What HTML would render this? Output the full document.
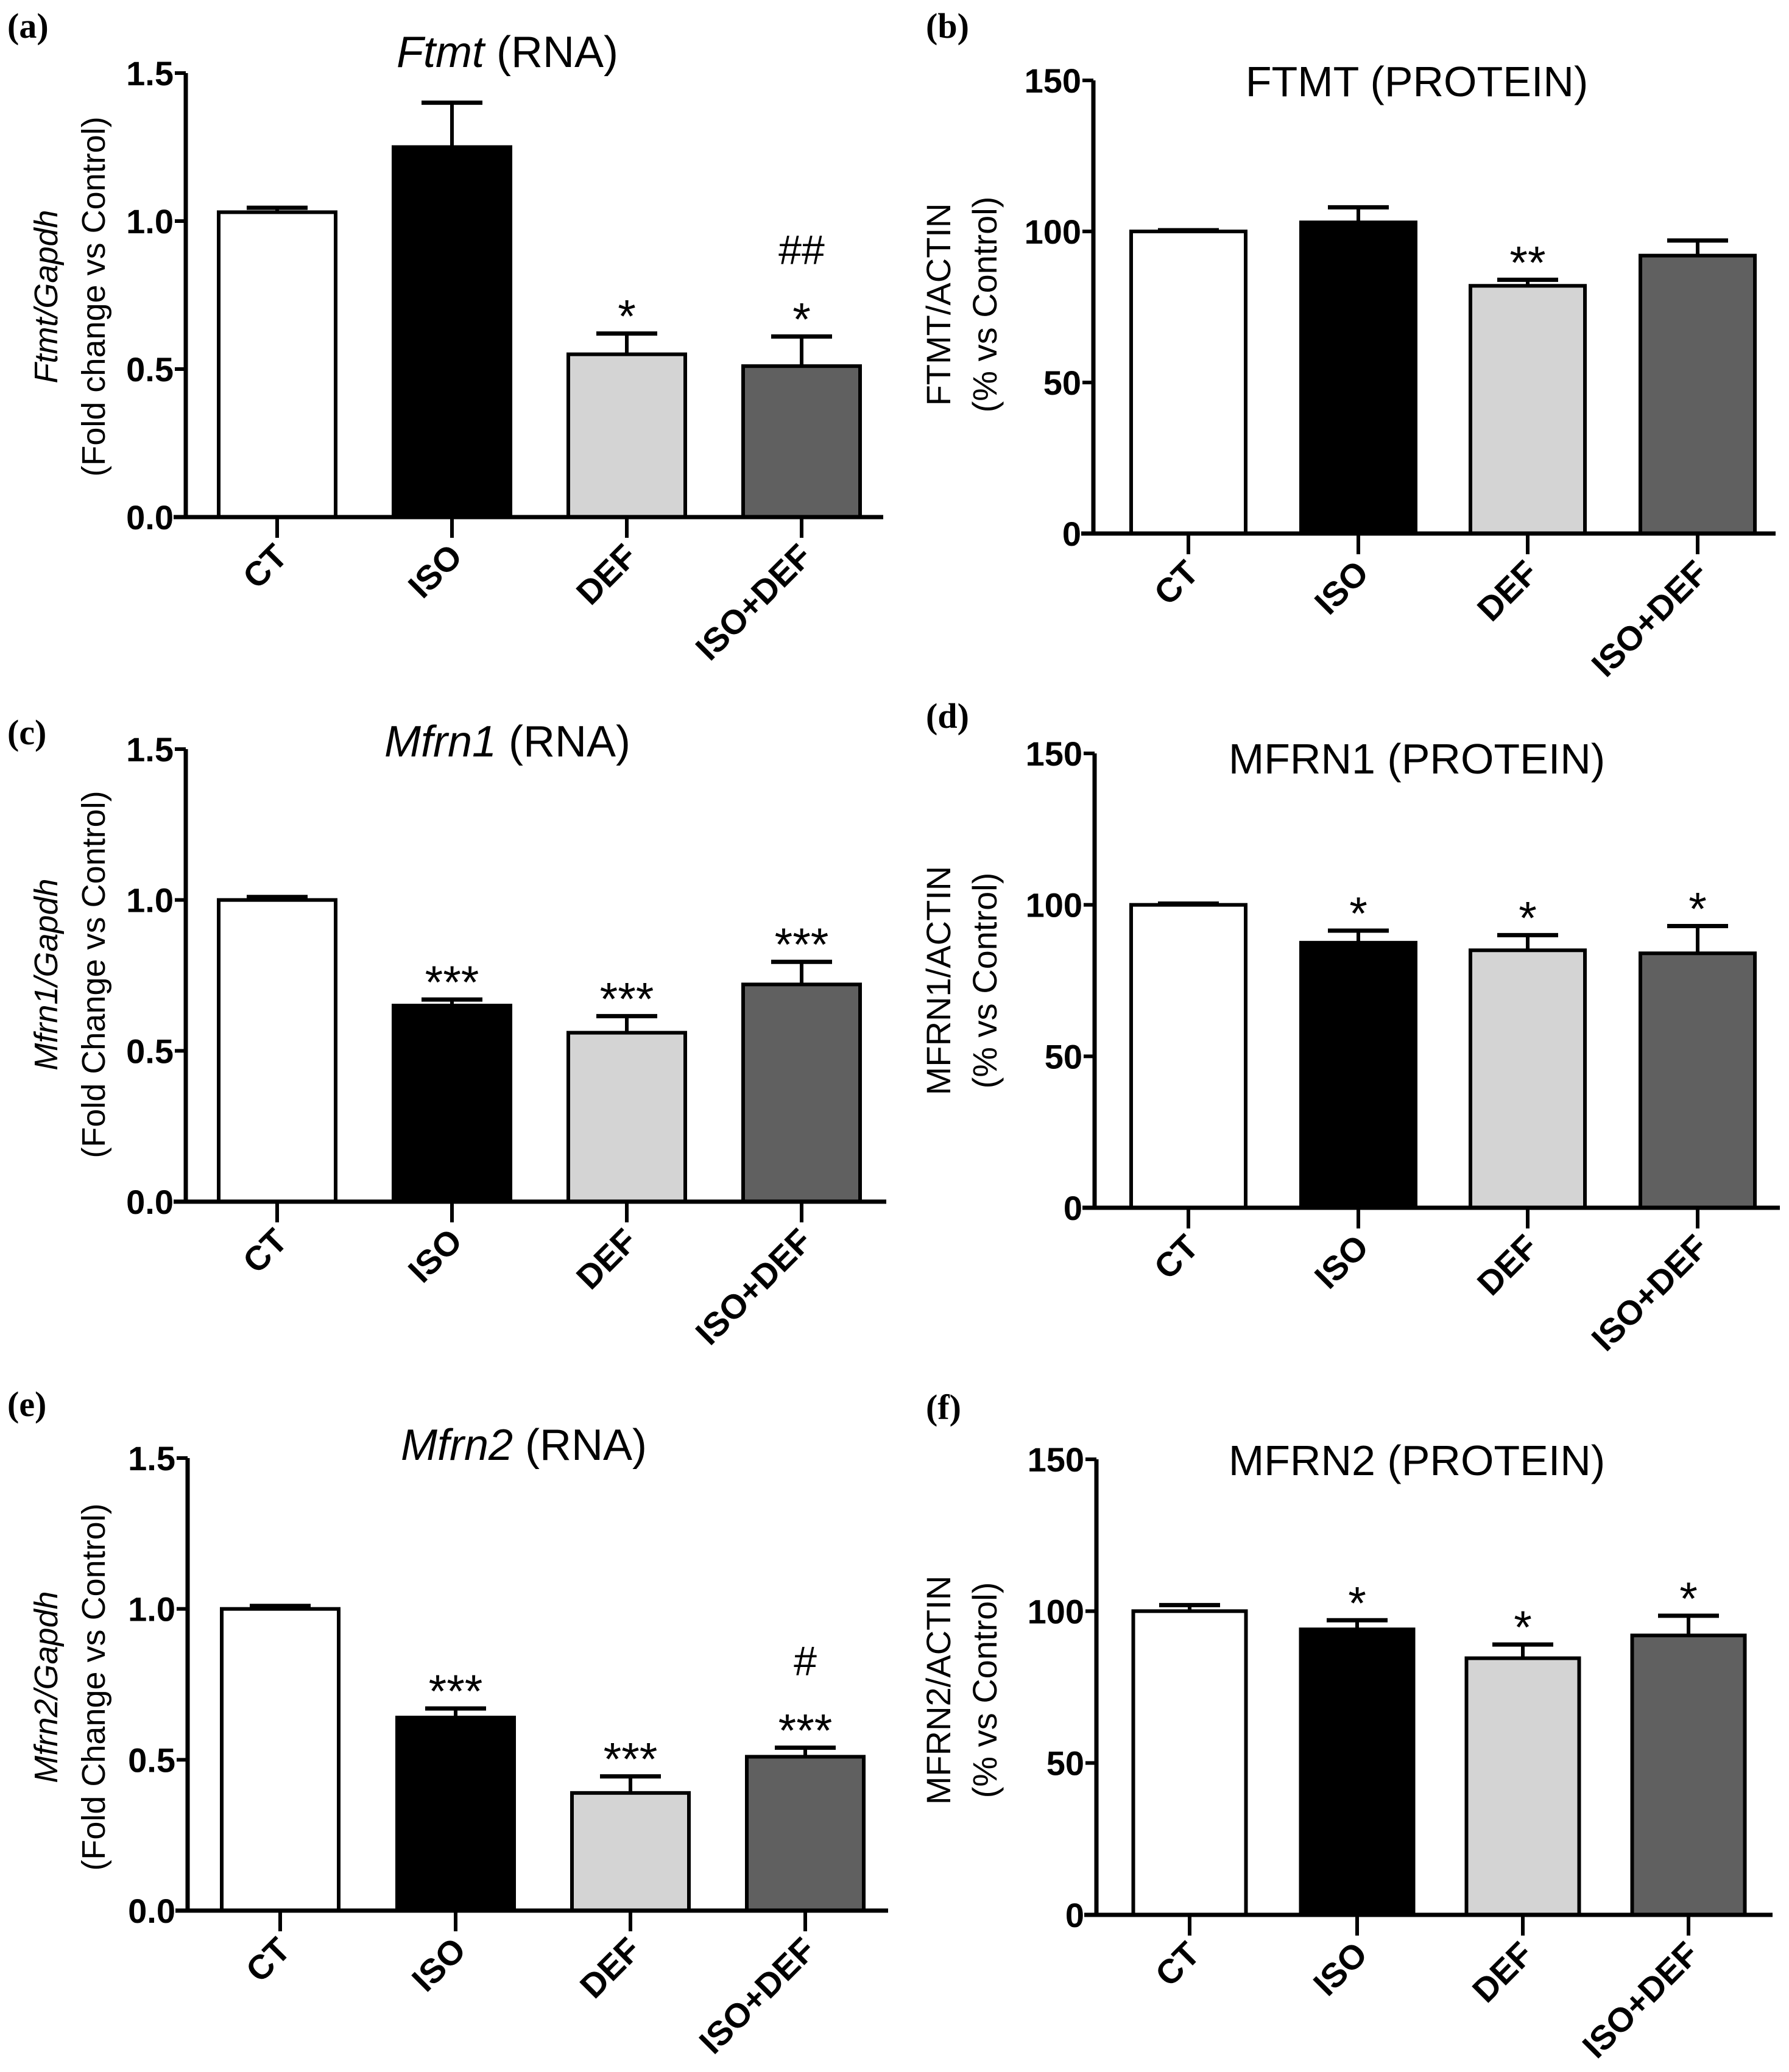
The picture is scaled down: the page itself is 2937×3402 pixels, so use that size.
<!DOCTYPE html>
<html><head><meta charset="utf-8">
<style>
html,body{margin:0;padding:0;background:#fff;}
svg{display:block;}
text{font-family:"Liberation Sans",Arial,sans-serif;}
</style></head>
<body>
<svg id="fig" width="2937" height="3402" viewBox="0 0 2937 3402" xmlns="http://www.w3.org/2000/svg"></svg>
<script>
const categories = ["CT","ISO","DEF","ISO+DEF"];
const fills = ["#ffffff","#000000","#d4d4d4","#606060"];
const valsA = [1.03,1.25,0.55,0.51];
const errA  = [0.015,0.15,0.07,0.10];
const sigA  = [[],[],["*"],["*","##"]];
const valsB = [100,103,82,92];
const errB  = [0.4,5,2,5];
const sigB  = [[],[],["**"],[]];
const valsC = [1.00,0.65,0.56,0.72];
const errC  = [0.01,0.02,0.055,0.075];
const sigC  = [[],["***"],["***"],["***"]];
const valsD = [100,87.5,85,84];
const errD  = [0.4,4,5,9];
const sigD  = [[],["*"],["*"],["*"]];
const valsE = [1.00,0.64,0.39,0.51];
const errE  = [0.01,0.03,0.055,0.03];
const sigE  = [[],["***"],["***"],["***","#"]];
const valsF = [100,94,84.5,92];
const errF  = [2,3,4.5,6.5];
const sigF  = [[],["*"],["*"],["*"]];
const ticksRNA = ["0.0","0.5","1.0","1.5"];
const tickValsRNA = [0,0.5,1.0,1.5];
const ticksProt = ["0","50","100","150"];
const tickValsProt = [0,50,100,150];

const NS="http://www.w3.org/2000/svg";
const svg=document.getElementById('fig');
function mk(tag,attrs,parent){const e=document.createElementNS(NS,tag);for(const k in attrs)e.setAttribute(k,attrs[k]);(parent||svg).appendChild(e);return e;}

const panels=[
 {lab:"(a)",lx:12,ly:62,ax:305,top:120,bot:849,end:1450,centers:[455,742,1029,1316],bw:192,max:1.5,vals:valsA,err:errA,sig:sigA,ticks:ticksRNA,tv:tickValsRNA,
  titleIt:"Ftmt",titleRest:" (RNA)",tx:833,ty:110,yl1it:"Ftmt/Gapdh",yl2:"(Fold change vs Control)",ylx:102,yly:487,name:"ftmt-rna"},
 {lab:"(b)",lx:1520,ly:62,ax:1795,top:132,bot:876,end:2915,centers:[1951,2230,2508,2787],bw:188,max:150,vals:valsB,err:errB,sig:sigB,ticks:ticksProt,tv:tickValsProt,
  titleIt:"",titleRest:"FTMT (PROTEIN)",tx:2326,ty:158,yl1:"FTMT/ACTIN",yl2:"(% vs Control)",ylx:1565,yly:500,name:"ftmt-protein"},
 {lab:"(c)",lx:12,ly:1222,ax:305,top:1230,bot:1973,end:1455,centers:[455,742,1029,1316],bw:192,max:1.5,vals:valsC,err:errC,sig:sigC,ticks:ticksRNA,tv:tickValsRNA,
  titleIt:"Mfrn1",titleRest:" (RNA)",tx:833,ty:1242,yl1it:"Mfrn1/Gapdh",yl2:"(Fold Change vs Control)",ylx:102,yly:1600,name:"mfrn1-rna"},
 {lab:"(d)",lx:1520,ly:1195,ax:1797,top:1237,bot:1983,end:2922,centers:[1951,2230,2508,2787],bw:188,max:150,vals:valsD,err:errD,sig:sigD,ticks:ticksProt,tv:tickValsProt,
  titleIt:"",titleRest:"MFRN1 (PROTEIN)",tx:2326,ty:1270,yl1:"MFRN1/ACTIN",yl2:"(% vs Control)",ylx:1565,yly:1610,name:"mfrn1-protein"},
 {lab:"(e)",lx:12,ly:2325,ax:308,top:2394,bot:3137,end:1458,centers:[460,748,1035,1322],bw:192,max:1.5,vals:valsE,err:errE,sig:sigE,ticks:ticksRNA,tv:tickValsRNA,
  titleIt:"Mfrn2",titleRest:" (RNA)",tx:860,ty:2397,yl1it:"Mfrn2/Gapdh",yl2:"(Fold Change vs Control)",ylx:102,yly:2770,name:"mfrn2-rna"},
 {lab:"(f)",lx:1520,ly:2330,ax:1800,top:2396,bot:3144,end:2910,centers:[1953,2228,2500,2772],bw:185,max:150,vals:valsF,err:errF,sig:sigF,ticks:ticksProt,tv:tickValsProt,
  titleIt:"",titleRest:"MFRN2 (PROTEIN)",tx:2326,ty:2422,yl1:"MFRN2/ACTIN",yl2:"(% vs Control)",ylx:1565,yly:2775,name:"mfrn2-protein"}
];

panels.forEach(p=>{
  const g=mk('g',{});
  
  
  const yS=v=>p.bot-(v/p.max)*(p.bot-p.top);
  const rna = p.max<10;
  const pl=mk('text',{x:p.lx,y:p.ly,'font-size':58,'font-weight':'bold',style:'font-family:"Liberation Serif",serif'},g);
  pl.textContent=p.lab;
  
  
  const t=mk('text',{x:p.tx,y:p.ty,'font-size':rna?72:70,'text-anchor':'middle'},g);
  
  
  if(p.titleIt){const s=mk('tspan',{'font-style':'italic'},t);s.textContent=p.titleIt;}
  const s2=mk('tspan',{},t);s2.textContent=p.titleRest;
  const fs = rna?54:56;
  const yl=mk('text',{transform:`translate(${p.ylx-(rna?8:5)},${p.yly}) rotate(-90)`,'font-size':fs,'text-anchor':'middle'},g);
  
  
  const l1=mk('tspan',{x:0,y:0},yl);
  if(p.yl1it){l1.setAttribute('font-style','italic');l1.textContent=p.yl1it;}else{l1.textContent=p.yl1;}
  const l2=mk('tspan',{x:0,y:rna?78:76},yl);l2.textContent=p.yl2;
  p.vals.forEach((v,i)=>{
    const cx=p.centers[i], y=yS(v), ye=yS(v+p.err[i]);
    const eb=mk('line',{x1:cx,x2:cx,y1:y,y2:ye,stroke:'#000','stroke-width':6},g);
    
    
    const cap=mk('line',{x1:cx-50,x2:cx+50,y1:ye,y2:ye,stroke:'#000','stroke-width':7},g);
    
    
    const r=mk('rect',{x:cx-p.bw/2,y:y,width:p.bw,height:p.bot-y,fill:fills[i],stroke:'#000','stroke-width':6},g);
    
    
    p.sig[i].forEach((s,k)=>{
      const isStar = s.indexOf('*')>=0;
      const st=mk('text',{x:cx,y:ye-(isStar?0:20)-k*85+(isStar?12:0)-14,'font-size':isStar?76:68,'text-anchor':'middle'},g);
      st.textContent=s;
      
      
    });
    const xt=mk('line',{x1:cx,x2:cx,y1:p.bot,y2:p.bot+34,stroke:'#000','stroke-width':6},g);
    
    
    const xl=mk('text',{transform:`translate(${cx+20},${p.bot+68}) rotate(-45)`,'font-size':56,'font-weight':'bold','text-anchor':'end'},g);
    xl.textContent=categories[i];
    
    
  });
  const ya=mk('line',{x1:p.ax,x2:p.ax,y1:p.top,y2:p.bot+3,stroke:'#000','stroke-width':7},g);
  
  
  const xa=mk('line',{x1:p.ax-20,x2:p.end,y1:p.bot,y2:p.bot,stroke:'#000','stroke-width':7},g);
  
  
  p.tv.forEach((v,i)=>{
    const y=yS(v);
    const tk=mk('line',{x1:p.ax-18,x2:p.ax,y1:y,y2:y,stroke:'#000','stroke-width':6},g);
    
    
    const tl=mk('text',{x:p.ax-20,y:y+20,'font-size':56,'font-weight':'bold','text-anchor':'end'},g);
    tl.textContent=p.ticks[i];
    
    
  });
});
</script>
</body></html>
